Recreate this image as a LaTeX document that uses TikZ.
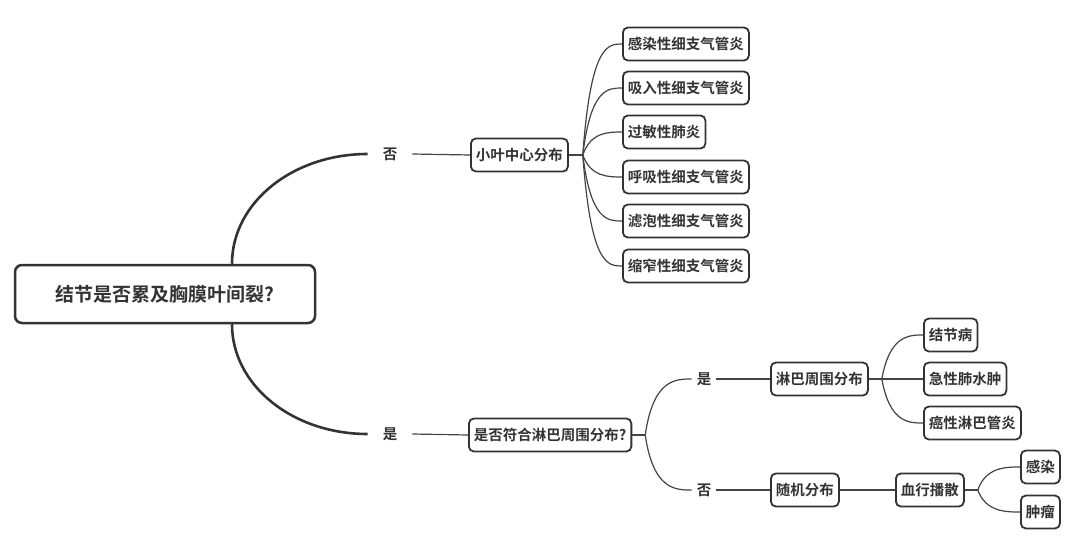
\documentclass[tikz,border=0pt]{standalone}
\usepackage{fontspec}
\setmainfont{Noto Sans CJK SC}
\newfontfamily\cjkbold{Noto Sans CJK SC}[UprightFont={* Bold}]
\usetikzlibrary{calc}
\definecolor{ink}{HTML}{333333}
\definecolor{wire}{HTML}{444444}
\tikzset{
  topic/.style={draw=ink, line width=1.8pt, rounded corners=5pt, fill=white, text=ink,
    font=\fontsize{14.5}{16}\cjkbold, minimum height=33pt, inner xsep=5pt, anchor=west},
  central/.style={draw=ink, line width=2.5pt, rounded corners=7pt, fill=white, text=ink,
    font=\fontsize{19}{22}\cjkbold, minimum width=300pt, minimum height=58pt},
  answer/.style={text=ink, font=\fontsize{14.5}{16}\cjkbold, inner xsep=15pt},
  link/.style={draw=wire, line width=1.2pt},
  trunk/.style={draw=ink, line width=2.6pt}
}
\begin{document}
\begin{tikzpicture}[x=1pt, y=-1pt]
\useasboundingbox (0,0) rectangle (1080,560);

\node[central] (root) at (165,294){结节是否累及胸膜叶间裂?};

\node[answer] (no1) at (390,154){否};
\node[answer] (yes1) at (390,434){是};

\node[topic] (lobule) at (470,155){小叶中心分布};
\node[topic] (infect) at (622,44){感染性细支气管炎};
\node[topic] (inhale) at (622,88){吸入性细支气管炎};
\node[topic] (allergy) at (622,132){过敏性肺炎};
\node[topic] (resp) at (622,177){呼吸性细支气管炎};
\node[topic] (follic) at (622,221){滤泡性细支气管炎};
\node[topic] (constr) at (622,266){缩窄性细支气管炎};

\node[topic] (lymq) at (468,435){是否符合淋巴周围分布?};
\node[answer, inner xsep=5pt] (yes2) at (704,379){是};
\node[answer, inner xsep=5pt] (no2) at (704,490){否};

\node[topic] (peri) at (770,379){淋巴周围分布};
\node[topic] (sarc) at (923,335){结节病};
\node[topic] (edema) at (923,379){急性肺水肿};
\node[topic] (carci) at (923,423){癌性淋巴管炎};

\node[topic] (random) at (770,490){随机分布};
\node[topic] (blood) at (895,490){血行播散};
\node[topic] (inf2) at (1020,467){感染};
\node[topic] (tumor) at (1020,512){肿瘤};

% main branches
\coordinate (rtop) at ($(root.north)+(67,0)$);
\coordinate (rbot) at ($(root.south)+(67,0)$);
\draw[trunk] (rtop) .. controls +(0,-61) and +(-75,0) .. (no1.west);
\draw[trunk] (rbot) .. controls +(0,61) and +(-75,0) .. (yes1.west);

\draw[link] (no1.east) -- (lobule.west);
\draw[link] (yes1.east) -- (lymq.west);

% fans
\coordinate (f1) at ($(lobule.east)+(14,0)$);
\draw[link] (lobule.east) -- (f1);
\foreach \c in {infect,inhale,allergy,resp,follic,constr}
  \draw[link] (f1) .. controls ($(f1 |- \c.west)+(8,0)$) and ($(\c.west)+(-14,0)$) .. (\c.west);

\coordinate (f2) at ($(lymq.east)+(13,0)$);
\draw[link] (lymq.east) -- (f2);
\foreach \c in {yes2,no2}
  \draw[link] (f2) .. controls ($(f2 |- \c.west)+(8,0)$) and ($(\c.west)+(-16,0)$) .. (\c.west);
\draw[link] (yes2.east) -- (peri.west);
\draw[link] (no2.east) -- (random.west);

\coordinate (f3) at ($(peri.east)+(13,0)$);
\draw[link] (peri.east) -- (f3);
\foreach \c in {sarc,edema,carci}
  \draw[link] (f3) .. controls ($(f3 |- \c.west)+(8,0)$) and ($(\c.west)+(-14,0)$) .. (\c.west);

\draw[link] (random.east) -- (blood.west);
\coordinate (f4) at ($(blood.east)+(13,0)$);
\draw[link] (blood.east) -- (f4);
\foreach \c in {inf2,tumor}
  \draw[link] (f4) .. controls ($(f4 |- \c.west)+(8,0)$) and ($(\c.west)+(-14,0)$) .. (\c.west);
\end{tikzpicture}
\end{document}
